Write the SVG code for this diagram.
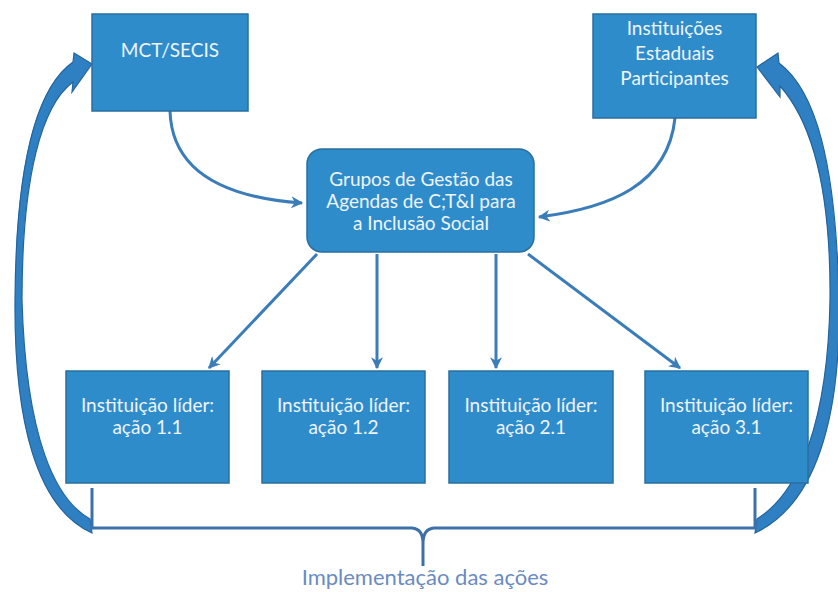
<svg xmlns="http://www.w3.org/2000/svg" width="838" height="592" viewBox="0 0 838 592">
<defs>
<style>
.box{fill:#2e8ccb;stroke:#2a6e9f;stroke-width:1.5}
.t{font-family:Lato,"Liberation Sans",sans-serif;font-size:19px;fill:#eef4fa;text-anchor:middle}
.conn{fill:none;stroke:#3a7db9;stroke-width:3}
.big{fill:#2f80c2;stroke:#24649c;stroke-width:1.2}
.br{fill:none;stroke:#3d70aa;stroke-width:3}
.lbl{font-family:Lato,"Liberation Sans",sans-serif;font-size:22px;fill:#6a8bc2;text-anchor:middle}
</style>
<marker id="ah" viewBox="0 0 10 10" refX="9" refY="5" markerWidth="4" markerHeight="4" orient="auto" markerUnits="strokeWidth">
<path d="M0,0 L10,5 L0,10 L3,5 Z" fill="#3a7db9"/>
</marker>
</defs>
<rect width="838" height="592" fill="#ffffff"/>

<g id="connectors">
<path class="conn" d="M170,111 C172,175 230,198 302,203" marker-end="url(#ah)"/>
<path class="conn" d="M675,118 C668,185 610,208 539,217" marker-end="url(#ah)"/>
<path class="conn" d="M317,254 L209,368" marker-end="url(#ah)"/>
<path class="conn" d="M377,254 L377,368" marker-end="url(#ah)"/>
<path class="conn" d="M496,254 L496,368" marker-end="url(#ah)"/>
<path class="conn" d="M528,254 L680,368" marker-end="url(#ah)"/>
<path class="big" d="M92,64 L74,53 L73,62 C40,85 16,150 15,300 C14,420 36,508 92,533 L90,519 C56,500 26,440 22,300 C22,175 42,105 73,82 L72,92 Z"/>
<path class="big" d="M757,67 L778,53 L779,63 C815,90 836,160 839,300 C841,420 815,505 755,533 L757,519 C800,492 828,420 830,300 C831,190 812,122 780,86 L780,97 Z"/>
<path class="br" d="M92,488 L92,528 L412,528 Q423,529 423,543 L423,566 M423,543 Q423,529 434,528 L755,528 L755,488"/>
</g>

<g id="mct">
<rect class="box" x="92" y="14" width="156" height="97"/>
<text class="t" x="170" y="57">MCT/SECIS</text>
</g>
<g id="estaduais">
<rect class="box" x="593" y="14" width="163" height="104"/>
<text class="t" x="674.5" y="35">Instituições</text>
<text class="t" x="674.5" y="60">Estaduais</text>
<text class="t" x="674.5" y="85">Participantes</text>
</g>
<g id="grupos">
<rect class="box" x="307" y="149" width="227" height="103" rx="15"/>
<text class="t" x="421" y="186">Grupos de Gestão das</text>
<text class="t" x="421" y="208">Agendas de C;T&amp;I para</text>
<text class="t" x="421" y="230">a Inclusão Social</text>
</g>
<g id="acao11">
<rect class="box" x="66" y="371" width="163" height="112"/>
<text class="t" x="147.5" y="412">Instituição líder:</text>
<text class="t" x="147.5" y="434">ação 1.1</text>
</g>
<g id="acao12">
<rect class="box" x="262" y="371" width="163" height="112"/>
<text class="t" x="343.5" y="412">Instituição líder:</text>
<text class="t" x="343.5" y="434">ação 1.2</text>
</g>
<g id="acao21">
<rect class="box" x="449" y="371" width="164" height="112"/>
<text class="t" x="531" y="412">Instituição líder:</text>
<text class="t" x="531" y="434">ação 2.1</text>
</g>
<g id="acao31">
<rect class="box" x="645" y="371" width="163" height="112"/>
<text class="t" x="726.5" y="412">Instituição líder:</text>
<text class="t" x="726.5" y="434">ação 3.1</text>
</g>
<g id="label">
<text class="lbl" x="425" y="585">Implementação das ações</text>
</g>
</svg>
